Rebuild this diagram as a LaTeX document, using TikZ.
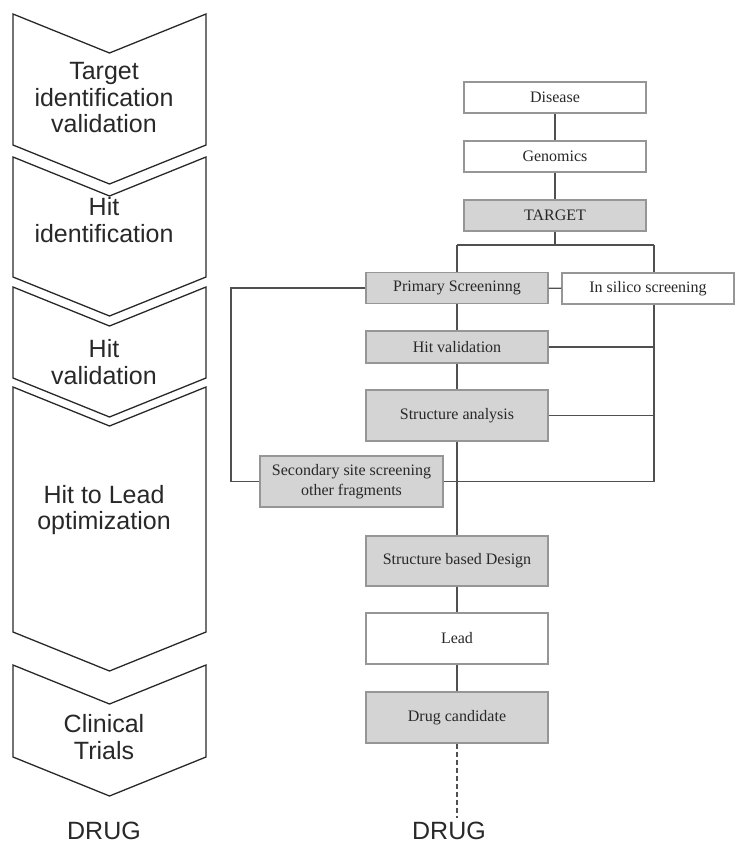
\documentclass[tikz,border=0pt]{standalone}
\usepackage{fontspec}
\setmainfont{Liberation Serif}
\newfontfamily\stagefont{Liberation Sans}

\definecolor{boxgrey}{RGB}{212,212,212}
\definecolor{edgegrey}{RGB}{150,150,150}
\definecolor{linkgrey}{RGB}{80,80,80}
\definecolor{inkgrey}{RGB}{40,40,40}

\tikzset{
  box/.style={draw=edgegrey, line width=1.2pt, minimum width=182pt, minimum height=31pt,
    inner sep=0pt, align=center, text=inkgrey, font=\fontsize{16}{20}\selectfont},
  greybox/.style={box, fill=boxgrey},
  plainbox/.style={box, fill=white},
  link/.style={draw=linkgrey, line width=1.2pt},
  chev/.style={draw=inkgrey, line width=1.3pt},
  stage/.style={align=center, text=inkgrey, font=\stagefont\fontsize{25}{26.5}\selectfont},
  endlabel/.style={text=inkgrey, inner sep=0pt, anchor=base, font=\stagefont\fontsize{25}{26.5}\selectfont}
}

\begin{document}
\begin{tikzpicture}[x=1pt, y=-1pt]

\useasboundingbox (0,0) rectangle (735,844);

\def\depth{39}

% stages on the left
\foreach \ya/\yb/\ty/\txt [count=\i] in {
    14/145/98/{Target\\identification\\validation},
    157/277/220/{Hit\\identification},
    287/378/362/{Hit\\validation},
    387/632/510/{Hit to Lead\\optimization},
    665/757/737/{Clinical\\Trials}}
{
  \draw[chev] (13,\ya) -- (109.5,\ya+\depth) -- (206,\ya) -- (206,\yb)
    -- (109.5,\yb+\depth) -- (13,\yb) -- cycle;
  \node[stage] (stage\i) at (104,\ty) {\txt};
}
\node[endlabel] (drugL) at (104,839.5) {DRUG};

% flow chart on the right
\node[plainbox] (disease) at (555,97.5) {Disease};
\node[plainbox] (genomics) at (555,156.5) {Genomics};
\node[greybox] (target) at (555,215.5) {TARGET};
\node[greybox] (primary) at (457,288) {Primary Screeninng};
\node[plainbox, minimum width=172pt] (insilico) at (648,288.5) {In silico screening};
\node[greybox, minimum height=32pt] (hitval) at (457,347) {Hit validation};
\node[greybox, minimum height=51pt] (structan) at (457,415.5) {Structure analysis};
\node[greybox, minimum width=183pt, minimum height=51pt] (secondary) at (351.5,481.5)
  {Secondary site screening\\other fragments};
\node[greybox, minimum height=50pt] (design) at (457,561) {Structure based Design};
\node[plainbox, minimum height=51pt] (lead) at (457,638.5) {Lead};
\node[greybox, minimum height=51pt] (candidate) at (457,717.5) {Drug candidate};
\node[endlabel] (drugR) at (449,839.5) {DRUG};

\coordinate (split) at (555,245);
\coordinate (splitL) at (457,245);
\coordinate (splitR) at (654,245);
\coordinate (loopT) at (231,288);
\coordinate (loopB) at (231,481.5);
\coordinate (hitR) at (654,347);
\coordinate (anaR) at (654,415.5);
\coordinate (secR) at (654,481.5);
\coordinate (drugend) at (457,818);

\draw[link] (disease) -- (genomics);
\draw[link] (genomics) -- (target);
\draw[link] (target) -- (split);
\draw[link] (splitL) -- (splitR);
\draw[link] (splitL) -- (primary);
\draw[link] (splitR) -- (splitR |- insilico.north);
\draw[link] (splitR |- insilico.south) -- (secR);
\draw[link] (primary) -- (insilico);
\draw[link] (primary) -- (hitval);
\draw[link] (hitval) -- (structan);
\draw[link] (structan) -- (design);
\draw[link] (design) -- (lead);
\draw[link] (lead) -- (candidate);
\draw[link] (hitval) -- (hitR);
\draw[link] (structan) -- (anaR);
\draw[link] (secondary) -- (secR);
\draw[link] (primary) -- (loopT) -- (loopB) -- (secondary);
\draw[link, dash pattern=on 5pt off 3pt] (candidate) -- (drugend);

\end{tikzpicture}
\end{document}
